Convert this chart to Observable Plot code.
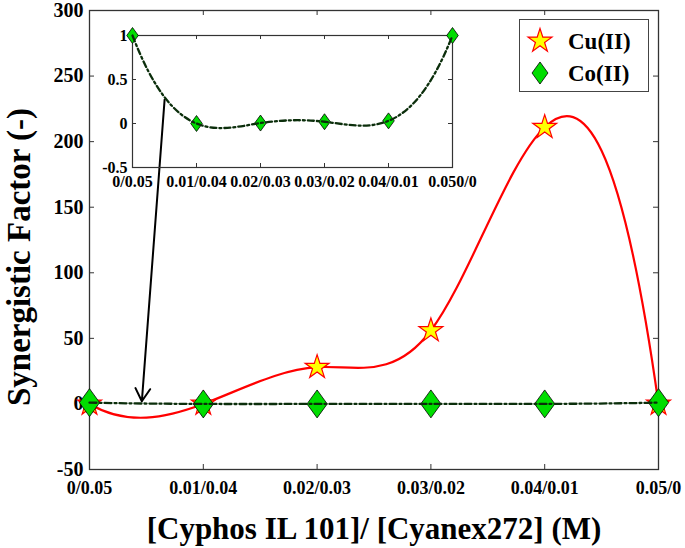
<!DOCTYPE html>
<html><head><meta charset="utf-8">
<script src="https://cdn.jsdelivr.net/npm/d3@7"></script>
<script src="https://cdn.jsdelivr.net/npm/@observablehq/plot@0.6"></script>
<style>
body{margin:0;background:#fff;}
#wrap{position:relative;width:685px;height:548px;font-family:'Liberation Serif',serif;font-weight:bold;}
#wrap svg.plotsvg{position:absolute;left:0;top:0;}
#wrap svg text{font-family:'Liberation Serif',serif !important;font-weight:bold !important;}
#legend{position:absolute;left:519px;top:19px;width:128px;height:71px;border:1px solid #444;background:#fff;}
#legend svg{position:absolute;left:0;top:0;}
</style></head><body><div id="wrap"></div>
<script>
// ---- data ----
const conc = [0, 0.01, 0.02, 0.03, 0.04, 0.05];
const tickLabels = ["0/0.05", "0.01/0.04", "0.02/0.03", "0.03/0.02", "0.04/0.01", "0.05/0"];
const insetTickLabels = ["0/0.05", "0.01/0.04", "0.02/0.03", "0.03/0.02", "0.04/0.01", "0.050/0"];
const cuValues = [0, 0, 28, 56, 211, 0];
const coValues = [1, 0, 0.005, 0.02, 0.03, 1];
const yTicks = [-50, 0, 50, 100, 150, 200, 250, 300];
const insetYTicks = [-0.5, 0, 0.5, 1];
const seriesNames = ["Cu(II)", "Co(II)"];
const xTitle = "[Cyphos IL 101]/ [Cyanex272] (M)";
const yTitle = "Synergistic Factor (-)";
const arrowData = [{x1: 0.0066, y1: 232, x2: 0.0046, y2: 2}];

const cu = conc.map((x, i) => ({x, y: cuValues[i]}));
const co = conc.map((x, i) => ({x, y: coValues[i]}));
const idx = d => Math.round(d * 100);

const FONT = "Liberation Serif, serif";

// MATLAB-style not-a-knot cubic spline as a d3 curve factory
function splineCurve(context) {
  let X = [], Y = [];
  return {
    areaStart() {}, areaEnd() {},
    lineStart() { X = []; Y = []; },
    point(x, y) { X.push(+x); Y.push(+y); },
    lineEnd() {
      const n = X.length;
      if (!n) return;
      context.moveTo(X[0], Y[0]);
      if (n < 4) { for (let i = 1; i < n; i++) context.lineTo(X[i], Y[i]); return; }
      const h = [], d = [];
      for (let i = 0; i < n - 1; i++) { h.push(X[i + 1] - X[i]); d.push((Y[i + 1] - Y[i]) / h[i]); }
      const A = Array.from({length: n}, () => new Array(n).fill(0)), b = new Array(n).fill(0);
      A[0][0] = h[1]; A[0][1] = -(h[0] + h[1]); A[0][2] = h[0];
      for (let i = 1; i < n - 1; i++) {
        A[i][i - 1] = h[i - 1]; A[i][i] = 2 * (h[i - 1] + h[i]); A[i][i + 1] = h[i];
        b[i] = 6 * (d[i] - d[i - 1]);
      }
      A[n - 1][n - 3] = h[n - 2]; A[n - 1][n - 2] = -(h[n - 3] + h[n - 2]); A[n - 1][n - 1] = h[n - 3];
      for (let c = 0; c < n; c++) {
        let p = c;
        for (let r = c + 1; r < n; r++) if (Math.abs(A[r][c]) > Math.abs(A[p][c])) p = r;
        [A[c], A[p]] = [A[p], A[c]]; [b[c], b[p]] = [b[p], b[c]];
        for (let r = c + 1; r < n; r++) {
          const f = A[r][c] / A[c][c];
          for (let k = c; k < n; k++) A[r][k] -= f * A[c][k];
          b[r] -= f * b[c];
        }
      }
      const M = new Array(n).fill(0);
      for (let r = n - 1; r >= 0; r--) {
        let s = b[r];
        for (let k = r + 1; k < n; k++) s -= A[r][k] * M[k];
        M[r] = s / A[r][r];
      }
      for (let i = 0; i < n - 1; i++) {
        const s0 = d[i] - h[i] * (2 * M[i] + M[i + 1]) / 6;
        const s1 = d[i] + h[i] * (M[i] + 2 * M[i + 1]) / 6;
        context.bezierCurveTo(X[i] + h[i] / 3, Y[i] + s0 * h[i] / 3, X[i + 1] - h[i] / 3, Y[i + 1] - s1 * h[i] / 3, X[i + 1], Y[i + 1]);
      }
    }
  };
}

const tallDiamond = {
  draw(ctx, size) {
    const r = Math.sqrt(size / Math.PI), w = r * 0.76, h = r * 1.05;
    ctx.moveTo(0, -h); ctx.lineTo(w, 0); ctx.lineTo(0, h); ctx.lineTo(-w, 0); ctx.closePath();
  }
};

const wrap = document.getElementById("wrap");

// ---- main plot ----
const W = 685, H = 548, mL = 89, mR = 27, mT = 10, mB = 79;
const pW = W - mL - mR, pH = H - mT - mB;
const main = Plot.plot({
  width: W, height: H, marginLeft: mL, marginRight: mR, marginTop: mT, marginBottom: mB,
  style: {fontFamily: FONT, fontSize: "18px", fontWeight: "bold", color: "#000", background: "transparent", overflow: "visible"},
  x: {domain: [0, 0.05], ticks: conc, tickFormat: d => tickLabels[idx(d)], tickSize: 0, tickPadding: 12, label: null},
  y: {domain: [-50, 300], ticks: yTicks, tickFormat: d => String(d), tickSize: 0, tickPadding: 6, label: null},
  marks: [
    Plot.ruleX(conc, {x: d => d, insetTop: pH - 5, stroke: "#333"}),
    Plot.ruleX(conc, {x: d => d, insetBottom: pH - 5, stroke: "#333"}),
    Plot.ruleY(yTicks, {y: d => d, insetRight: pW - 5, stroke: "#333"}),
    Plot.ruleY(yTicks, {y: d => d, insetLeft: pW - 5, stroke: "#333"}),
    Plot.frame({stroke: "#333", strokeWidth: 1.3}),
    Plot.line(cu, {x: "x", y: "y", curve: splineCurve, stroke: "#ff0000", strokeWidth: 2.2}),
    Plot.dot(cu, {x: "x", y: "y", symbol: "star", r: 7.5, fill: "#ffff00", stroke: "#ff0000", strokeWidth: 1.2}),
    Plot.dot(co, {x: "x", y: "y", symbol: tallDiamond, r: 13.3, fill: "#00dd00", stroke: "#000", strokeWidth: 0.8}),
    Plot.line(co, {x: "x", y: "y", curve: splineCurve, stroke: "#0b2e0b", strokeWidth: 2.3, strokeDasharray: "7,3,2,3"}),
    Plot.arrow(arrowData, {x1: "x1", y1: "y1", x2: "x2", y2: "y2", stroke: "#000", strokeWidth: 2, headLength: 11}),
    Plot.text([xTitle], {frameAnchor: "bottom", textAnchor: "middle", lineAnchor: "middle", dy: 60, fontSize: 31, fill: "#000"}),
    Plot.text([yTitle], {frameAnchor: "left", textAnchor: "middle", lineAnchor: "middle", dx: -70, dy: 17, rotate: -90, fontSize: 33, fill: "#000"})
  ]
});
main.classList.add("plotsvg");
wrap.appendChild(main);
main.querySelectorAll('g[aria-label^="y-axis"]').forEach(g => {
  g.setAttribute("font-size", "20");
  g.querySelectorAll("text").forEach(t => t.setAttribute("font-size", "20"));
});

// ---- inset ----
const iL = 50, iR = 40, iT = 10, iB = 30, iW = 320, iH = 132;
const inset = Plot.plot({
  width: iL + iW + iR, height: iT + iH + iB, marginLeft: iL, marginRight: iR, marginTop: iT, marginBottom: iB,
  style: {fontFamily: FONT, fontSize: "16px", fontWeight: "bold", color: "#000", background: "transparent", overflow: "visible"},
  x: {domain: [0, 0.05], ticks: conc, tickFormat: d => insetTickLabels[idx(d)], tickSize: 0, tickPadding: 8, label: null},
  y: {domain: [-0.5, 1], ticks: insetYTicks, tickFormat: d => String(d), tickSize: 0, tickPadding: 5, label: null},
  marks: [
    Plot.ruleX(conc, {x: d => d, insetTop: iH - 4, stroke: "#333"}),
    Plot.ruleX(conc, {x: d => d, insetBottom: iH - 4, stroke: "#333"}),
    Plot.ruleY(insetYTicks, {y: d => d, insetRight: iW - 4, stroke: "#333"}),
    Plot.ruleY(insetYTicks, {y: d => d, insetLeft: iW - 4, stroke: "#333"}),
    Plot.frame({stroke: "#333", strokeWidth: 1.2}),
    Plot.dot(co, {x: "x", y: "y", symbol: tallDiamond, r: 7.6, fill: "#00dd00", stroke: "#000", strokeWidth: 0.8}),
    Plot.line(co, {x: "x", y: "y", curve: splineCurve, stroke: "#0b2e0b", strokeWidth: 2.3, strokeDasharray: "6,3,2,3"})
  ]
});
inset.classList.add("plotsvg");
inset.style.left = "82px";
inset.style.top = "25px";
wrap.appendChild(inset);

// ---- legend ----
const leg = document.createElement("div");
leg.id = "legend";
wrap.appendChild(leg);
const ls = d3.select(leg).append("svg").attr("width", 128).attr("height", 71);
const star = d3.symbol(d3.symbolStar, 7.5 * 7.5 * Math.PI)();
const dia = d3.symbol(tallDiamond, 10.5 * 10.5 * Math.PI)();
ls.append("path").attr("d", star).attr("transform", "translate(20,21)").attr("fill", "#ffff00").attr("stroke", "#ff0000").attr("stroke-width", 1.2);
ls.append("path").attr("d", dia).attr("transform", "translate(20,53)").attr("fill", "#00dd00").attr("stroke", "#000").attr("stroke-width", 0.8);
ls.selectAll("text.lab").data(seriesNames).join("text").attr("class", "lab")
  .attr("x", 48).attr("y", (d, i) => 21 + i * 32).attr("dy", "0.35em")
  .attr("font-size", 23).attr("fill", "#000").text(d => d);
</script></body></html>
